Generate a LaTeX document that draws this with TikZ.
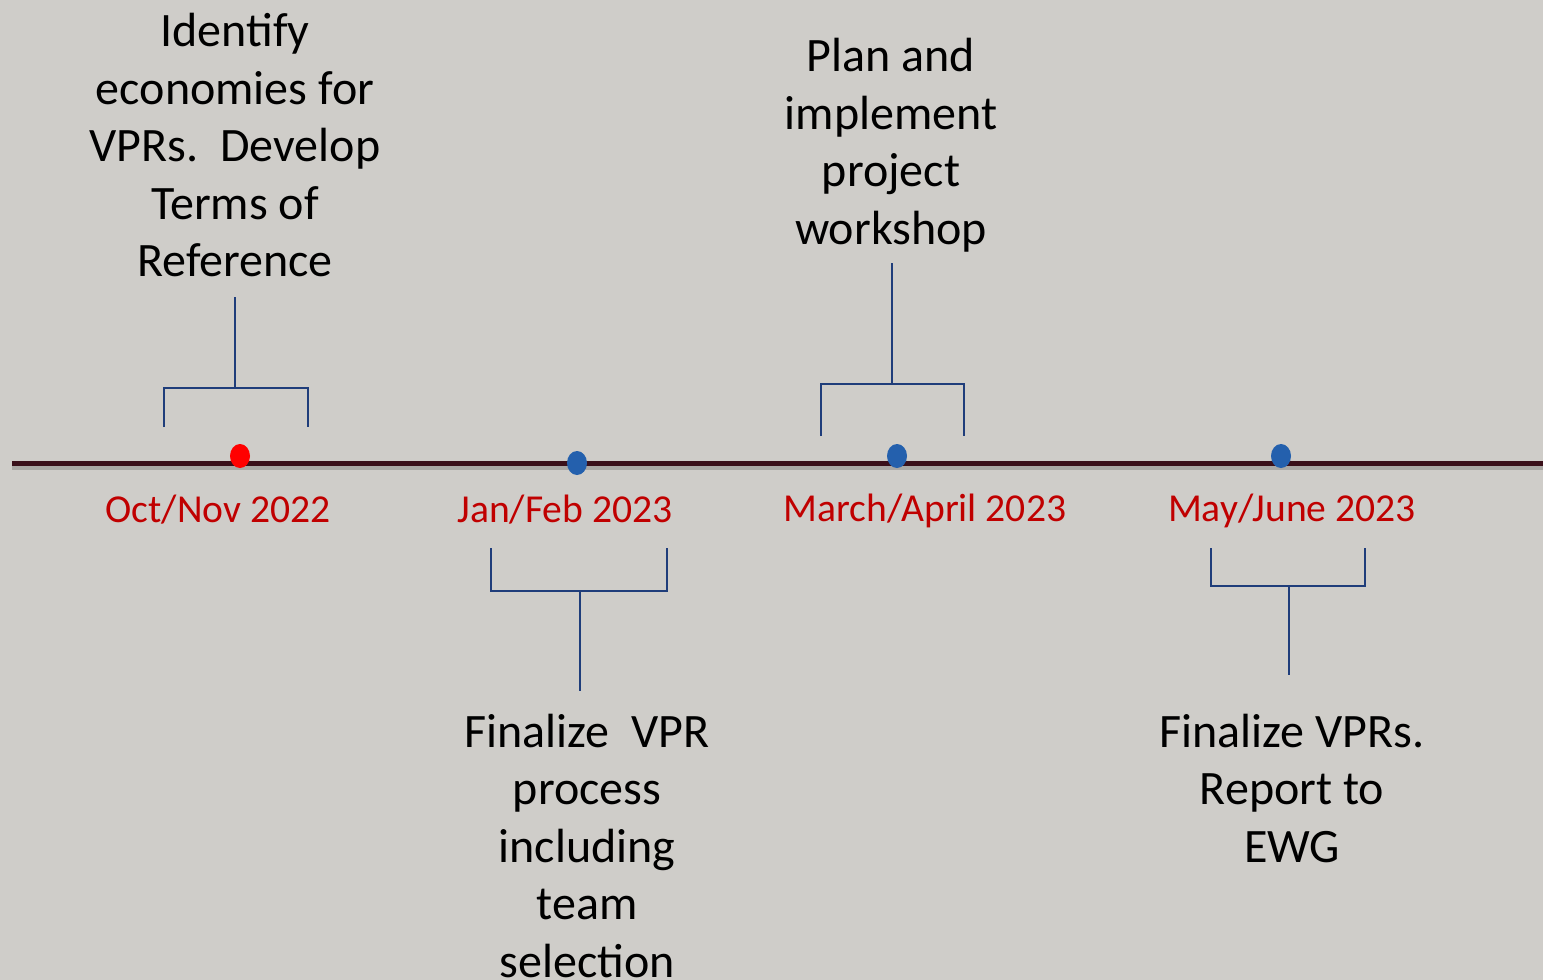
\documentclass[tikz,border=0pt]{standalone}
\usepackage{fontspec}
\setmainfont{Carlito}
\usetikzlibrary{shapes.geometric}
\definecolor{bg}{RGB}{207,205,201}
\definecolor{axis}{RGB}{58,16,26}
\definecolor{shadowc}{RGB}{170,168,165}
\definecolor{dotblue}{RGB}{36,96,173}
\definecolor{dotred}{RGB}{255,0,0}
\definecolor{datered}{RGB}{192,0,0}
\definecolor{brk}{RGB}{31,61,122}
\tikzset{
  dotnode/.style={shape=ellipse, inner sep=0pt, minimum width=10pt, minimum height=12pt, draw=none},
  datelabel/.style={text=datered, font=\fontsize{19.8}{24}\selectfont, inner sep=0pt},
  tasktext/.style={text=black, align=center, font=\fontsize{24}{28.75}\selectfont, inner sep=0pt},
  bracketline/.style={draw=brk, line width=1pt},
}
\begin{document}
\begin{tikzpicture}[x=0.5pt,y=-0.5pt]
\useasboundingbox (0,0) rectangle (1543,980);
\fill[bg] (0,0) rectangle (1543,980);
\clip (0,0) rectangle (1543,980);
% timeline
\coordinate (tl0) at (12,463);
\coordinate (tl1) at (1543,463);
\draw[shadowc, line width=2.5pt] ([yshift=-2pt]tl0) -- ([yshift=-2pt]tl1);
\draw[axis, line width=2.5pt] (tl0) -- (tl1);
% dots
\node[dotnode, fill=dotred] (d1) at (240,456) {};
\node[dotnode, fill=dotblue] (d2) at (577,463) {};
\node[dotnode, fill=dotblue] (d3) at (897,456) {};
\node[dotnode, fill=dotblue] (d4) at (1281,456) {};
% dates
\node[datelabel] (l1) at (218,510) {Oct/Nov 2022};
\node[datelabel] (l2) at (565,510) {Jan/Feb 2023};
\node[datelabel] (l3) at (925,511) {March/April 2023};
\node[datelabel] (l4) at (1292,511) {May/June 2023};
% texts
\node[tasktext] (t1) at (235,145) {Identify\\economies for\\VPRs.\ \ Develop\\Terms of\\Reference};
\node[tasktext] (t3) at (891,145) {Plan and\\implement\\project\\workshop};
\node[tasktext] (t2) at (587,846) {Finalize\ \ VPR\\process\\including\\team\\selection};
\node[tasktext] (t4) at (1292,788) {Finalize VPRs.\\Report to\\EWG};
% bracket 1
\coordinate (b1a) at (164,427); \coordinate (b1b) at (164,388);
\coordinate (b1c) at (308,388); \coordinate (b1d) at (308,427);
\coordinate (b1m) at (235,388); \coordinate (b1s) at (235,297);
\draw[bracketline] (b1a) -- (b1b) -- (b1c) -- (b1d);
\draw[bracketline] (b1m) -- (b1s);
% bracket 2
\coordinate (b2a) at (491,548); \coordinate (b2b) at (491,591);
\coordinate (b2c) at (667,591); \coordinate (b2d) at (667,548);
\coordinate (b2m) at (580,591); \coordinate (b2s) at (580,691);
\draw[bracketline] (b2a) -- (b2b) -- (b2c) -- (b2d);
\draw[bracketline] (b2m) -- (b2s);
% bracket 3
\coordinate (b3a) at (821,436); \coordinate (b3b) at (821,384);
\coordinate (b3c) at (964,384); \coordinate (b3d) at (964,436);
\coordinate (b3m) at (892,384); \coordinate (b3s) at (892,263);
\draw[bracketline] (b3a) -- (b3b) -- (b3c) -- (b3d);
\draw[bracketline] (b3m) -- (b3s);
% bracket 4
\coordinate (b4a) at (1211,548); \coordinate (b4b) at (1211,586);
\coordinate (b4c) at (1365,586); \coordinate (b4d) at (1365,548);
\coordinate (b4m) at (1289,586); \coordinate (b4s) at (1289,675);
\draw[bracketline] (b4a) -- (b4b) -- (b4c) -- (b4d);
\draw[bracketline] (b4m) -- (b4s);
\end{tikzpicture}
\end{document}
